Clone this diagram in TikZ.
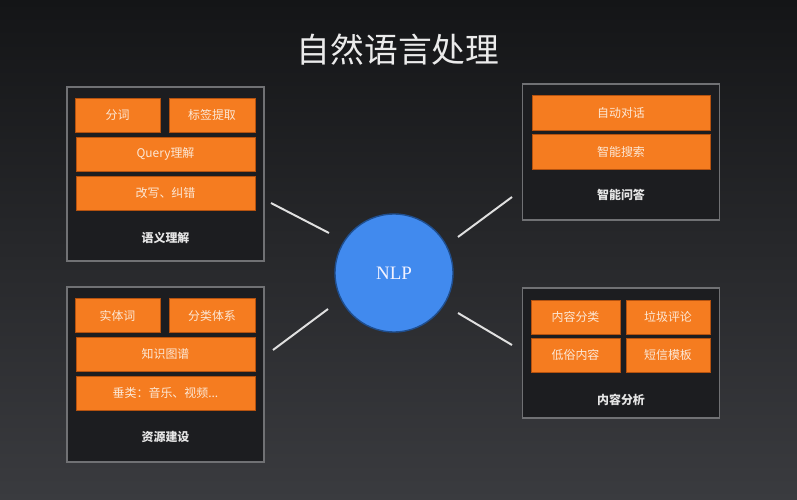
\documentclass[tikz,border=0pt]{standalone}
\usepackage{fontspec}
\newfontfamily\cjk{Noto Sans CJK SC}
\newfontfamily\nlpfont{Liberation Serif}
\definecolor{bgtop}{HTML}{141517}
\definecolor{bgbottom}{HTML}{3A3B3F}
\definecolor{panelfill}{HTML}{1C1D20}
\definecolor{paneledge}{HTML}{707174}
\definecolor{tagorange}{HTML}{F57C20}
\definecolor{tagedge}{HTML}{B5520F}
\definecolor{tagtext}{HTML}{FCE8D6}
\definecolor{nlpblue}{HTML}{418AEE}
\definecolor{nlpedge}{HTML}{1F4E8E}
\def\px{0.025cm}
\tikzset{
  panel/.style={draw=paneledge, line width=0.9pt, fill=panelfill, minimum width=197*\px},
  tag/.style={draw=tagedge, line width=0.6pt, fill=tagorange, text=tagtext,
    minimum height=34*\px, inner sep=0pt, font=\cjk\fontsize{8.5}{10}\selectfont},
  caption/.style={text=white!90!black, font=\cjk\bfseries\fontsize{8.5}{10}\selectfont},
  link/.style={draw=white!88!black, line width=1.4pt}
}
\begin{document}
\begin{tikzpicture}[x=\px, y=-\px]
    % Background
    \shade[top color=bgtop, bottom color=bgbottom] (0,0) rectangle (797,500);
    \useasboundingbox (0,0) rectangle (797,500);

    % Title
    \node[text=white!92!black, font=\cjk\fontsize{24}{28}\selectfont] (title) at (398,50) {自然语言处理};

    % Centre
    \node[circle, fill=nlpblue, draw=nlpedge, line width=1pt, minimum size=118*\px,
      text=white!95!blue, font=\nlpfont\fontsize{13.5}{15}\selectfont] (nlp) at (394,273) {NLP};

    % Semantic understanding
    \node[panel, minimum height=174*\px] (sem) at (165.5,174) {};
    \node[tag, minimum width=85*\px] (seg) at (117.5,115) {分词};
    \node[tag, minimum width=86*\px] (lbl) at (212,115) {标签提取};
    \node[tag, minimum width=179*\px] (query) at (165.5,154) {Query理解};
    \node[tag, minimum width=179*\px] (fix) at (165.5,193) {改写、纠错};
    \node[caption] (semcap) at (165.5,238) {语义理解};

    % Resource building
    \node[panel, minimum height=175*\px] (res) at (165.5,374.5) {};
    \node[tag, minimum width=85*\px] (ent) at (117.5,315.5) {实体词};
    \node[tag, minimum width=86*\px] (cls) at (212,315.5) {分类体系};
    \node[tag, minimum width=179*\px] (kg) at (165.5,354) {知识图谱};
    \node[tag, minimum width=179*\px] (vert) at (165.5,393) {垂类：音乐、视频...};
    \node[caption] (rescap) at (165.5,437) {资源建设};

    % Question answering
    \node[panel, minimum height=136*\px] (qa) at (621,152) {};
    \node[tag, minimum width=178*\px, minimum height=35*\px] (chat) at (621,112.5) {自动对话};
    \node[tag, minimum width=178*\px, minimum height=35*\px] (search) at (621,151.5) {智能搜索};
    \node[caption] (qacap) at (621,195) {智能问答};

    % Content analysis
    \node[panel, minimum height=130*\px] (cont) at (621,353) {};
    \node[tag, minimum width=89*\px] (ccls) at (575.5,317) {内容分类};
    \node[tag, minimum width=84*\px] (spam) at (668,317) {垃圾评论};
    \node[tag, minimum width=89*\px] (vulgar) at (575.5,355) {低俗内容};
    \node[tag, minimum width=84*\px] (sms) at (668,355) {短信模板};
    \node[caption] (contcap) at (621,400) {内容分析};

    % Links
    \coordinate (ulA) at (271,203); \coordinate (ulB) at (329,233);
    \coordinate (urA) at (512,197); \coordinate (urB) at (458,237);
    \coordinate (llA) at (273,350); \coordinate (llB) at (328,309);
    \coordinate (lrA) at (512,345); \coordinate (lrB) at (458,313);
    \draw[link] (ulA) -- (ulB);
    \draw[link] (urA) -- (urB);
    \draw[link] (llA) -- (llB);
    \draw[link] (lrA) -- (lrB);
\end{tikzpicture}
\end{document}
